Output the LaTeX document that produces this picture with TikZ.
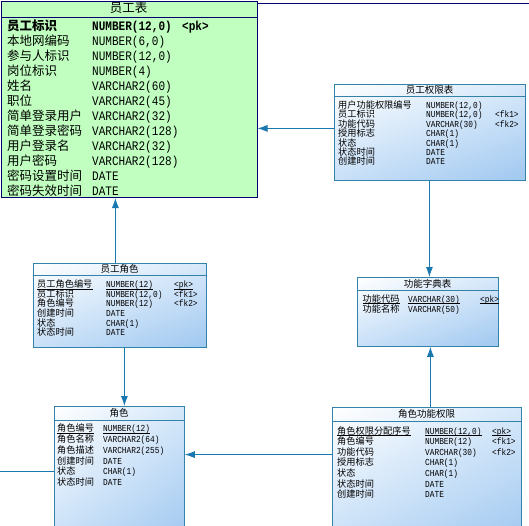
\documentclass[tikz,border=0pt]{standalone}
\usepackage{fontspec}
\newfontfamily\cjk{Noto Sans CJK SC}
\newfontfamily\lmono[FakeStretch=0.85]{Liberation Mono}
\usetikzlibrary{arrows.meta,shadings}
\definecolor{tblline}{RGB}{50,130,170}
\definecolor{conncol}{RGB}{25,120,175}
\definecolor{empfill}{RGB}{192,255,192}
\definecolor{empline}{RGB}{0,0,110}
\definecolor{shA}{RGB}{214,232,250}
\definecolor{shB}{RGB}{200,224,248}
\definecolor{shC}{RGB}{160,200,240}
\tikzset{
  tbl/.style={draw=tblline, line width=0.8pt, anchor=north west, inner sep=0pt,
    upper left=white, upper right=shA, lower left=shB, lower right=shC},
  emptbl/.style={draw=empline, line width=1pt, fill=empfill, anchor=north west, inner sep=0pt},
  conn/.style={draw=conncol, line width=0.9pt, -{Latex[length=10pt,width=7pt]}},
  plain/.style={draw=conncol, line width=0.9pt},
  sepline/.style={draw=tblline, line width=0.8pt},
  ulst/.style={draw=black, line width=0.5pt},
  ttl/.style={font=\cjk\fontsize{9.5}{10}\selectfont, inner sep=0pt, anchor=base},
  cn/.style={font=\cjk\fontsize{9.2}{10}\selectfont, inner sep=0pt, anchor=base west},
  ty/.style={font=\lmono\fontsize{9.2}{10}\selectfont, inner sep=0pt, anchor=base west},
  bigttl/.style={font=\cjk\fontsize{12.5}{13}\selectfont, inner sep=0pt, anchor=base},
  bigcn/.style={font=\cjk\fontsize{12.5}{13}\selectfont, inner sep=0pt, anchor=base west},
  bigty/.style={font=\lmono\fontsize{13}{14}\selectfont, inner sep=0pt, anchor=base west},
}
\begin{document}
\begin{tikzpicture}[x=1pt,y=-1pt]
\useasboundingbox (0,0) rectangle (529,525);
\clip (0,0) rectangle (529,525);
\fill[white] (0,0) rectangle (529,525);

% top black line (another table border)
\coordinate (T1) at (250,3);
\coordinate (T2) at (535,3);
\draw[empline, line width=1pt] (T1) -- (T2);

% ---------- 员工表 ----------
\node[emptbl, minimum width=255.5pt, minimum height=196pt] (emp) at (1,1) {};
\draw[empline, line width=1pt] ([yshift=-16pt]emp.north west) -- ([yshift=-16pt]emp.north east);
\node[bigttl] (empT) at (128.5,12.8) {员工表};
\begin{scope}
\clip (emp.north west) rectangle (emp.south east);
\node[bigcn, font=\cjk\bfseries\fontsize{12.5}{13}\selectfont] (e0a) at (7,30.5) {员工标识};
\node[bigty, font=\lmono\bfseries\fontsize{13}{14}\selectfont] (e0b) at (92,30.5) {NUMBER(12,0)};
\node[bigty, font=\lmono\bfseries\fontsize{13}{14}\selectfont] (e0c) at (182,30.5) {<pk>};
\foreach \y/\a/\b [count=\i] in {
  45.5/{本地网编码}/{NUMBER(6,0)},
  60.5/{参与人标识}/{NUMBER(12,0)},
  75.5/{岗位标识}/{NUMBER(4)},
  90.5/{姓名}/{VARCHAR2(60)},
  105.5/{职位}/{VARCHAR2(45)},
  120.5/{简单登录用户}/{VARCHAR2(32)},
  135.5/{简单登录密码}/{VARCHAR2(128)},
  150.5/{用户登录名}/{VARCHAR2(32)},
  165.5/{用户密码}/{VARCHAR2(128)},
  180.5/{密码设置时间}/{DATE},
  195.5/{密码失效时间}/{DATE}}{
  \node[bigcn] (e\i a) at (7,\y) {\a};
  \node[bigty] (e\i b) at (92,\y) {\b};
}
\end{scope}

% ---------- 员工权限表 ----------
\node[tbl, minimum width=191pt, minimum height=96pt] (perm) at (334,84) {};
\draw[sepline] ([yshift=-12pt]perm.north west) -- ([yshift=-12pt]perm.north east);
\node[ttl] (permT) at (429.5,93.4) {员工权限表};
\foreach \y/\a/\b/\c [count=\i] in {
  108.4/{用户功能权限编号}/{NUMBER(12,0)}/{},
  117.8/{员工标识}/{NUMBER(12,0)}/{<fk1>},
  127.2/{功能代码}/{VARCHAR(30)}/{<fk2>},
  136.6/{授用标志}/{CHAR(1)}/{},
  146/{状态}/{CHAR(1)}/{},
  155.4/{状态时间}/{DATE}/{},
  164.8/{创建时间}/{DATE}/{}}{
  \node[cn] (p\i a) at (338,\y) {\a};
  \node[ty] (p\i b) at (426,\y) {\b};
  \node[ty] (p\i c) at (495,\y) {\c};
}

% ---------- 员工角色 ----------
\node[tbl, minimum width=173pt, minimum height=84pt] (emprole) at (33,263) {};
\draw[sepline] ([yshift=-12pt]emprole.north west) -- ([yshift=-12pt]emprole.north east);
\node[ttl] (emproleT) at (119.5,272.4) {员工角色};
\node[cn] (r0a) at (37,287.7) {员工角色编号};
\node[ty] (r0b) at (106,287.7) {NUMBER(12)};
\node[ty] (r0c) at (174,287.7) {<pk>};
\foreach \n in {r0a,r0b,r0c}{
  \draw[ulst] ([yshift=-1.4pt]\n.base west) -- ([yshift=-1.4pt]\n.base east);
}
\foreach \y/\a/\b/\c [count=\i] in {
  297.3/{员工标识}/{NUMBER(12,0)}/{<fk1>},
  306.9/{角色编号}/{NUMBER(12)}/{<fk2>},
  316.5/{创建时间}/{DATE}/{},
  326.1/{状态}/{CHAR(1)}/{},
  335.7/{状态时间}/{DATE}/{}}{
  \node[cn] (r\i a) at (37,\y) {\a};
  \node[ty] (r\i b) at (106,\y) {\b};
  \node[ty] (r\i c) at (174,\y) {\c};
}

% ---------- 功能字典表 ----------
\node[tbl, minimum width=141pt, minimum height=69pt] (dict) at (357,277) {};
\draw[sepline] ([yshift=-13pt]dict.north west) -- ([yshift=-13pt]dict.north east);
\node[ttl] (dictT) at (427.5,287.4) {功能字典表};
\node[cn] (d1a) at (362.5,302) {功能代码};
\node[ty] (d1b) at (408,302) {VARCHAR(30)};
\node[ty] (d1c) at (480,302) {<pk>};
\foreach \n in {d1a,d1b,d1c}{
  \draw[ulst] ([yshift=-1.4pt]\n.base west) -- ([yshift=-1.4pt]\n.base east);
}
\node[cn] (d2a) at (362.5,312.3) {功能名称};
\node[ty] (d2b) at (408,312.3) {VARCHAR(50)};

% ---------- 角色 ----------
\node[tbl, minimum width=130pt, minimum height=135pt] (role) at (54,406) {};
\draw[sepline] ([yshift=-14pt]role.north west) -- ([yshift=-14pt]role.north east);
\node[ttl] (roleT) at (119,416.6) {角色};
\node[cn] (o0a) at (57,431.7) {角色编号};
\node[ty] (o0b) at (103,431.7) {NUMBER(12)};
\foreach \n in {o0a,o0b}{
  \draw[ulst] ([yshift=-1.4pt]\n.base west) -- ([yshift=-1.4pt]\n.base east);
}
\foreach \y/\a/\b [count=\i] in {
  442.5/{角色名称}/{VARCHAR2(64)},
  453.3/{角色描述}/{VARCHAR2(255)},
  464.1/{创建时间}/{DATE},
  474.9/{状态}/{CHAR(1)},
  485.7/{状态时间}/{DATE}}{
  \node[cn] (o\i a) at (57,\y) {\a};
  \node[ty] (o\i b) at (103,\y) {\b};
}

% ---------- 角色功能权限 ----------
\node[tbl, minimum width=189pt, minimum height=135pt] (rolefunc) at (332,407) {};
\draw[sepline] ([yshift=-14pt]rolefunc.north west) -- ([yshift=-14pt]rolefunc.north east);
\node[ttl] (rolefuncT) at (426.5,417.6) {角色功能权限};
\node[cn] (f0a) at (337,434) {角色权限分配序号};
\node[ty] (f0b) at (425,434) {NUMBER(12,0)};
\node[ty] (f0c) at (492,434) {<pk>};
\foreach \n in {f0a,f0b,f0c}{
  \draw[ulst] ([yshift=-1.4pt]\n.base west) -- ([yshift=-1.4pt]\n.base east);
}
\foreach \y/\a/\b/\c [count=\i] in {
  444.6/{角色编号}/{NUMBER(12)}/{<fk1>},
  455.2/{功能代码}/{VARCHAR(30)}/{<fk2>},
  465.8/{授用标志}/{CHAR(1)}/{},
  476.4/{状态}/{CHAR(1)}/{},
  487/{状态时间}/{DATE}/{},
  497.6/{创建时间}/{DATE}/{}}{
  \node[cn] (f\i a) at (337,\y) {\a};
  \node[ty] (f\i b) at (425,\y) {\b};
  \node[ty] (f\i c) at (492,\y) {\c};
}

% ---------- connectors ----------
\coordinate (c1) at ([yshift=4pt]perm.west);
\draw[conn] (c1) -- (c1 -| emp.east);
\coordinate (c2) at ([xshift=-4.5pt]emprole.north);
\draw[conn] (c2) -- (c2 |- emp.south);
\coordinate (c3) at ([xshift=4.5pt]emprole.south);
\draw[conn] (c3) -- (c3 |- role.north);
\coordinate (c4) at ([xshift=-0.5pt]perm.south);
\draw[conn] (c4) -- (c4 |- dict.north);
\coordinate (c5) at ([xshift=3.5pt]rolefunc.north);
\draw[conn] (c5) -- (c5 |- dict.south);
\coordinate (c6) at ([yshift=20.3pt]rolefunc.west);
\draw[conn] (c6) -- (c6 -| role.east);
\coordinate (L) at (0,471);
\draw[plain] (L) -- (L -| role.west);
\end{tikzpicture}
\end{document}
